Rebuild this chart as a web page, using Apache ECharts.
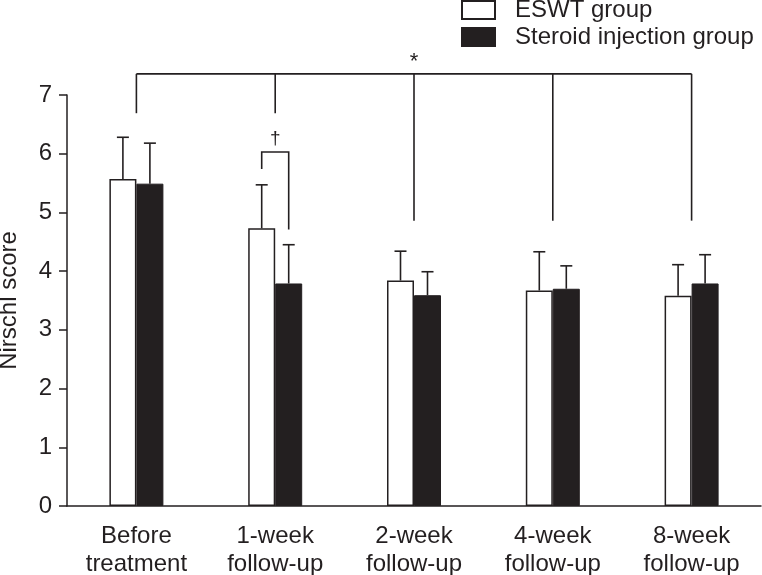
<!DOCTYPE html>
<html>
<head>
<meta charset="utf-8">
<script src="https://cdn.jsdelivr.net/npm/echarts@6/dist/echarts.min.js"></script>
<style>
  html, body { margin: 0; padding: 0; background: #fff; }
  #chart { width: 762px; height: 575px; }
</style>
</head>
<body>
<div id="chart"></div>
<script>
const categories = ["Before\ntreatment", "1-week\nfollow-up", "2-week\nfollow-up", "4-week\nfollow-up", "8-week\nfollow-up"];
const eswtMean = [5.57, 4.73, 3.84, 3.67, 3.58];
const eswtSD = [0.71, 0.74, 0.5, 0.66, 0.53];
const steroidMean = [5.49, 3.79, 3.59, 3.7, 3.79];
const steroidSD = [0.69, 0.66, 0.4, 0.39, 0.49];
const yTicks = [0, 1, 2, 3, 4, 5, 6, 7];

// "*" bracket: one bar across all time points, drop at each point
const starLevel = 7.36;
const starDrops = [6.69, 6.69, 4.86, 4.86, 4.86];
// dagger bracket between the two 1-week bars
const daggerCat = 1;
const daggerLevel = 6.03;
const daggerEnds = [5.74, 4.71];

const INK = "#231f20";
const BAR_W = 27;
const FONT = "Liberation Sans, Arial, sans-serif";

const chart = echarts.init(document.getElementById("chart"));

function errorSeries(name, means, sds, side) {
  return {
    name: name + " SD",
    type: "custom",
    data: means.map((m, i) => [i, m, m + sds[i]]),
    z: 5,
    renderItem: (params, api) => {
      const base = api.coord([api.value(0), api.value(1)]);
      const top = api.coord([api.value(0), api.value(2)]);
      const x = base[0] + side * BAR_W / 2;
      const style = { stroke: INK, lineWidth: 1.6 };
      return {
        type: "group",
        children: [
          { type: "line", shape: { x1: x, y1: base[1], x2: x, y2: top[1] }, style },
          { type: "line", shape: { x1: x - 6, y1: top[1], x2: x + 6, y2: top[1] }, style },
        ],
      };
    },
  };
}

chart.setOption({
  animation: false,
  backgroundColor: "#fff",
  textStyle: { fontFamily: FONT, color: INK },
  legend: {
    orient: "vertical",
    left: 461,
    top: -2,
    padding: 0,
    icon: "rect",
    itemWidth: 33,
    itemHeight: 18,
    itemGap: 3,
    data: ["ESWT group", "Steroid injection group"],
    textStyle: { fontFamily: FONT, fontSize: 24, lineHeight: 24, color: INK, padding: [0, 0, 0, 15] },
  },
  grid: { left: 67, right: 1, top: 95, bottom: 69, outerBoundsMode: "none", containLabel: false },
  xAxis: {
    type: "category",
    data: categories,
    axisLine: { lineStyle: { color: INK, width: 1.5 } },
    axisTick: { length: 8, lineStyle: { color: INK, width: 1.5 } },
    axisLabel: { fontFamily: FONT, fontSize: 24, lineHeight: 28, color: INK, margin: 16 },
  },
  yAxis: {
    type: "value",
    min: yTicks[0],
    max: yTicks[yTicks.length - 1],
    interval: 1,
    name: "Nirschl score",
    nameLocation: "middle",
    nameGap: 46,
    nameTextStyle: { fontFamily: FONT, fontSize: 24, color: INK },
    splitLine: { show: false },
    axisLine: { show: true, lineStyle: { color: INK, width: 1.5 } },
    axisTick: { show: true, length: 8, lineStyle: { color: INK, width: 1.5 } },
    axisLabel: { fontFamily: FONT, fontSize: 24, color: INK, margin: 15 },
  },
  series: [
    {
      name: "ESWT group",
      type: "bar",
      data: eswtMean,
      barWidth: BAR_W,
      barGap: "0%",
      itemStyle: { color: "#fff", borderColor: INK, borderWidth: 1.5 },
    },
    {
      name: "Steroid injection group",
      type: "bar",
      data: steroidMean,
      barWidth: BAR_W,
      barGap: "0%",
      itemStyle: { color: INK, borderColor: INK, borderWidth: 1 },
    },
    errorSeries("ESWT", eswtMean, eswtSD, -1),
    errorSeries("Steroid", steroidMean, steroidSD, 1),
    {
      name: "star bracket",
      type: "custom",
      data: starDrops.map((d, i) => [i, starLevel, d]),
      z: 6,
      renderItem: (params, api) => {
        const top = api.coord([api.value(0), api.value(1)]);
        const bottom = api.coord([api.value(0), api.value(2)]);
        const style = { stroke: INK, lineWidth: 1.6 };
        const children = [
          { type: "line", shape: { x1: top[0], y1: top[1], x2: bottom[0], y2: bottom[1] }, style },
        ];
        if (params.dataIndex === 0) {
          const end = api.coord([starDrops.length - 1, starLevel]);
          children.push({ type: "line", shape: { x1: top[0], y1: top[1], x2: end[0], y2: end[1] }, style });
          children.push({
            type: "text",
            x: (top[0] + end[0]) / 2,
            y: top[1] - 12,
            style: { text: "*", fontFamily: FONT, fontSize: 22, fill: INK, align: "center", verticalAlign: "middle" },
          });
        }
        return { type: "group", children };
      },
    },
    {
      name: "dagger bracket",
      type: "custom",
      data: [[daggerCat, daggerLevel, daggerEnds[0], daggerEnds[1]]],
      z: 6,
      renderItem: (params, api) => {
        const mid = api.coord([api.value(0), api.value(1)]);
        const yl = api.coord([api.value(0), api.value(2)])[1];
        const yr = api.coord([api.value(0), api.value(3)])[1];
        const xl = mid[0] - BAR_W / 2;
        const xr = mid[0] + BAR_W / 2;
        const style = { stroke: INK, lineWidth: 1.6 };
        return {
          type: "group",
          children: [
            { type: "polyline", shape: { points: [[xl, yl], [xl, mid[1]], [xr, mid[1]], [xr, yr]] }, style: { ...style, fill: null } },
            {
              type: "text",
              x: mid[0],
              y: mid[1] - 13,
              style: { text: "\u2020", fontFamily: FONT, fontSize: 19, fill: INK, align: "center", verticalAlign: "middle" },
            },
          ],
        };
      },
    },
  ],
});
</script>
</body>
</html>
